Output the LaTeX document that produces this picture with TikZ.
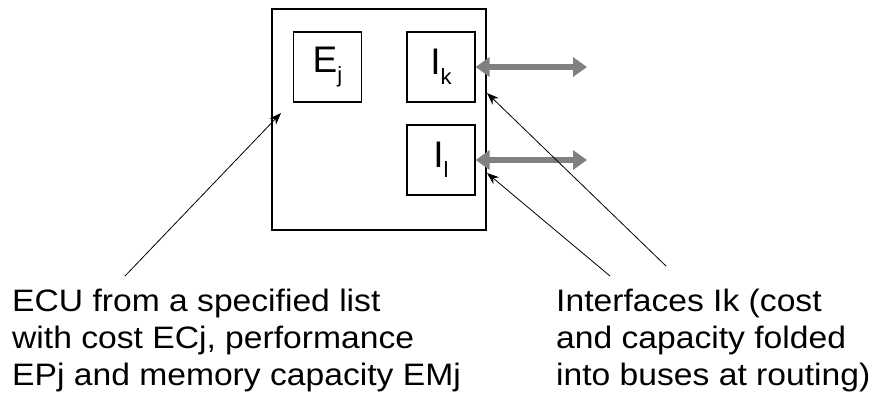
\documentclass[tikz,border=0pt]{standalone}
\usepackage{fontspec}
\setmainfont{Liberation Sans}
\newfontfamily\notefont{Liberation Sans}[FakeStretch=1.085]
\usetikzlibrary{arrows.meta}

% lowered subscript for the unit labels
\newcommand{\lowsub}[1]{\raisebox{-10pt}{\fontsize{22}{22}\selectfont #1}}

\begin{document}
\begin{tikzpicture}
        [x=1pt, y=-1pt, every node/.style={inner sep=0},
         unit/.style={draw, line width=1.2pt, minimum width=68pt, minimum height=70pt, font=\fontsize{37}{37}\selectfont},
         bus/.style={gray, line width=5.5pt, {Triangle[length=14pt,width=19pt]}-{Triangle[length=14pt,width=19pt]}},
         note/.style={line width=0.8pt, -{Stealth[length=12pt,width=9pt]}},
         caption/.style={align=left, anchor=north west, font=\notefont\fontsize{31}{37}\selectfont}]

        \useasboundingbox (0,0) rectangle (873,405);

        \node[draw, line width=1.2pt, minimum width=214pt, minimum height=221pt] (ecu) at (379,119.5) {};
        \node[unit] (ej) at (327.5,67) {E\lowsub{j}};
        \node[unit] (ik) at (441,67) {I\lowsub{k}};
        \node[unit] (il) at (441,160) {I\lowsub{l}};

        \coordinate (ikbus) at (587,67);
        \coordinate (ilbus) at (587,160);
        \draw[bus] (ik.east) -- (ikbus);
        \draw[bus] (il.east) -- (ilbus);

        \node[caption] (ecutext) at (12,289) {ECU from a specified list\\with cost ECj, performance\\EPj and memory capacity EMj};
        \node[caption] (iftext) at (556,289) {Interfaces Ik (cost\\and capacity folded\\into buses at routing)};

        \coordinate (ecutail) at (125,276);
        \coordinate (ecutip) at (281,113);
        \coordinate (iktail) at (666,266);
        \coordinate (iktip) at (487,93);
        \coordinate (iltail) at (610,276);
        \coordinate (iltip) at (487,173);

        \draw[note] (ecutail) -- (ecutip);
        \draw[note] (iktail) -- (iktip);
        \draw[note] (iltail) -- (iltip);

      \end{tikzpicture}
\end{document}
